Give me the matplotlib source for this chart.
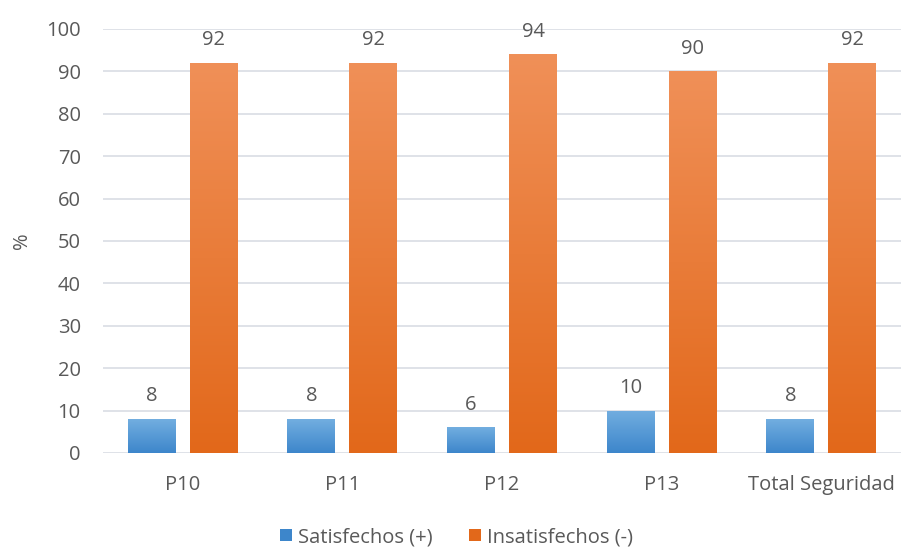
import matplotlib.pyplot as plt
import numpy as np
from matplotlib.colors import LinearSegmentedColormap
from matplotlib.patches import Patch

plt.rcParams['font.family'] = ['Open Sans', 'DejaVu Sans']

categories = ['P10', 'P11', 'P12', 'P13', 'Total Seguridad']
satisfechos = [8, 8, 6, 10, 8]
insatisfechos = [92, 92, 94, 90, 92]
series_names = ['Satisfechos (+)', 'Insatisfechos (-)']

textColor = '#595959'
blueTop, blueBottom = '#72aee0', '#3d86cb'
orangeTop, orangeBottom = '#f09058', '#e2681a'

fig = plt.figure(figsize=(9.03, 5.47), dpi=100)
ax = fig.add_axes([0.114, 0.172, 0.884, 0.775])

x = np.arange(len(categories))
width = 0.3
offset = 0.194


def GradientBars(ax, xs, values, top, bottom):
    cmap = LinearSegmentedColormap.from_list('g', [bottom, top])
    bars = ax.bar(xs, values, width, color='none', edgecolor='none', zorder=3)
    for bar in bars:
        x0, y0 = bar.get_x(), bar.get_y()
        w, h = bar.get_width(), bar.get_height()
        grad = np.linspace(0, 1, 256).reshape(-1, 1)
        im = ax.imshow(grad, cmap=cmap, aspect='auto', origin='lower',
                       extent=[x0, x0 + w, y0, y0 + h], zorder=3)
        im.set_clip_path(bar)
    return bars


barsS = GradientBars(ax, x - offset, satisfechos, blueTop, blueBottom)
barsI = GradientBars(ax, x + offset, insatisfechos, orangeTop, orangeBottom)

for xs, vals in [(x - offset, satisfechos), (x + offset, insatisfechos)]:
    for xi, v in zip(xs, vals):
        ax.text(xi, v + 3.0, str(v), ha='center', va='bottom', fontsize=14.5, color=textColor)

ax.set_xlim(-0.5, len(categories) - 0.5)
ax.set_ylim(0, 100)
ax.set_yticks(range(0, 101, 10))
ax.set_xticks(x)
ax.set_xticklabels(categories)
ax.tick_params(axis='both', length=0, labelsize=14.5, colors=textColor)
ax.tick_params(axis='y', pad=16)
ax.tick_params(axis='x', pad=16)
ax.grid(axis='y', color='#d9dde4', linewidth=1.2, zorder=0)
ax.set_axisbelow(True)
for s in ax.spines.values():
    s.set_visible(False)
ax.set_ylabel('%', fontsize=14.5, color=textColor, labelpad=10)

handles = [Patch(facecolor=blueBottom, label=series_names[0]),
           Patch(facecolor=orangeBottom, label=series_names[1])]
fig.legend(handles=handles, loc='center', bbox_to_anchor=(0.506, 0.018), ncol=2,
           frameon=False, fontsize=14.5, labelcolor=textColor, handlelength=0.6,
           handleheight=0.6, handletextpad=0.3, columnspacing=1.8)

fig.savefig('out.png', dpi=100)
